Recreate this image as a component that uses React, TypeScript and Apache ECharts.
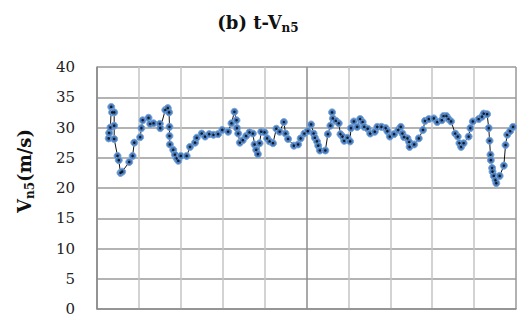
import React, { useEffect, useRef } from "react";
import * as echarts from "echarts";

const times: number[] = [
  2.8, 2.9, 3.2, 3.4, 3.6, 4.1, 4.1, 4.1, 4.9, 5.2, 5.6, 6.0, 7.7, 8.5, 8.9,
  10.3, 10.6, 10.9, 12.3, 12.7, 13.5, 15.0, 15.1, 16.3, 16.9, 17.2, 17.3, 17.3,
  17.4, 18.2, 18.6, 19.0, 19.4, 20.0, 21.4, 22.2, 23.4, 23.8, 25.0, 25.8, 26.8,
  27.8, 28.9, 29.9, 31.3, 32.1, 32.8, 33.3, 33.4, 33.7, 34.1, 34.8, 35.6, 36.4,
  37.2, 37.6, 38.0, 38.4, 38.8, 39.2, 40.0, 40.6, 41.2, 42.0, 42.8, 43.6, 44.6,
  45.0, 45.6, 47.0, 48.0, 48.6, 49.5, 50.3, 51.1, 51.7, 52.0, 52.5, 52.8, 53.2,
  54.5, 55.1, 55.7, 56.1, 56.3, 57.0, 57.7, 58.1, 58.6, 59.0, 59.8, 60.4, 60.6,
  61.3, 62.1, 62.8, 63.4, 63.8, 64.6, 65.2, 66.3, 66.9, 67.9, 68.9, 69.3, 69.9,
  70.9, 71.9, 72.5, 72.9, 73.3, 74.1, 74.5, 74.6, 75.7, 76.8, 77.8, 78.3, 79.2,
  80.4, 81.2, 82.3, 82.7, 83.4, 83.9, 84.5, 85.5, 86.1, 86.5, 86.9, 87.5, 88.7,
  89.1, 89.7, 91.1, 91.9, 92.3, 93.1, 93.5, 93.7, 93.9, 94.0, 94.3, 94.4, 94.7,
  95.1, 95.3, 96.1, 97.1, 97.5, 97.9, 98.6, 99.3,
];

const speeds: number[] = [
  28.2, 29.1, 30.0, 33.4, 32.5, 32.5, 30.3, 28.1, 25.3, 24.6, 22.5, 22.7, 24.3,
  25.3, 27.5, 28.4, 29.9, 31.2, 31.6, 30.6, 30.7, 30.6, 29.9, 32.9, 33.2, 32.5,
  30.1, 28.6, 27.2, 26.3, 25.5, 24.9, 24.5, 25.3, 25.3, 26.8, 27.5, 28.3, 29.0,
  28.5, 28.9, 28.8, 28.9, 29.6, 29.3, 30.7, 32.6, 31.2, 29.9, 29.0, 27.5, 27.9,
  28.6, 29.2, 29.0, 27.2, 26.3, 25.6, 27.4, 29.3, 29.2, 28.2, 27.7, 27.4, 29.8,
  29.3, 30.9, 29.0, 28.1, 27.0, 27.2, 28.2, 29.0, 29.4, 30.5, 29.0, 28.3, 27.7,
  27.0, 26.2, 26.2, 28.9, 30.3, 32.5, 31.5, 31.1, 30.7, 28.9, 28.5, 27.8, 28.3,
  27.7, 29.9, 31.0, 30.1, 31.4, 30.9, 30.1, 29.8, 29.0, 29.3, 30.1, 30.1, 29.9,
  29.4, 28.5, 28.9, 29.6, 30.1, 29.0, 28.4, 28.2, 27.6, 26.8, 27.2, 28.2, 29.6,
  31.1, 31.4, 31.5, 30.9, 31.2, 31.9, 31.9, 31.4, 31.0, 29.0, 28.5, 27.4, 26.8,
  27.4, 28.5, 29.9, 31.0, 31.4, 31.8, 32.3, 32.2, 29.9, 27.8, 25.5, 24.6, 23.3,
  22.7, 22.0, 21.3, 20.8, 22.0, 23.7, 27.1, 28.8, 29.4, 30.1,
];

const yTicks = { min: 0, max: 40, interval: 5 };
const xTicks = { min: 0, max: 100, interval: 10 };

const SERIF = "'DejaVu Serif', serif";

export default function App() {
  const ref = useRef<HTMLDivElement>(null);
  useEffect(() => {
    document.body.style.margin = "0";
    if (!ref.current) return;
    const chart = echarts.init(ref.current, null, { renderer: "svg" });
    const data = times.map((t, i) => [t, speeds[i]]);
    const vColors = [
      "#8c8c8c", "#c4c4c4", "#c4c4c4", "#c4c4c4", "#c4c4c4", "#8c8c8c",
      "#c4c4c4", "#c4c4c4", "#c4c4c4", "#c4c4c4", "#999999",
    ];
    const rich = {
      m: { fontFamily: SERIF, fontWeight: "bold", fontSize: 18, fill: "#111" },
      s: { fontFamily: SERIF, fontWeight: "bold", fontSize: 12, fill: "#111", padding: [11, 0, 0, 0] },
    };
    chart.setOption({
      animation: false,
      backgroundColor: "#ffffff",
      grid: { left: 97, top: 67, right: 13, bottom: 11 },
      graphic: [
        {
          type: "text",
          x: 258,
          y: 22,
          style: {
            text: "{m|(b) t-V}{s|n5}",
            align: "center",
            verticalAlign: "middle",
            rich,
          },
        },
        {
          type: "text",
          x: 24,
          y: 171,
          rotation: Math.PI / 2,
          style: {
            text: "{m|V}{s|n5}{m|(m/s)}",
            align: "center",
            verticalAlign: "middle",
            rich,
          },
        },
      ],
      xAxis: {
        type: "value",
        min: xTicks.min,
        max: xTicks.max,
        interval: xTicks.interval,
        axisLabel: { show: false },
        axisTick: { show: false },
        axisLine: { show: true, lineStyle: { color: "#8c8c8c", width: 1.5 } },
        splitLine: { show: true, lineStyle: { color: vColors, width: 1.5 } },
      },
      yAxis: {
        type: "value",
        min: yTicks.min,
        max: yTicks.max,
        interval: yTicks.interval,
        axisTick: { show: false },
        axisLine: { show: true, lineStyle: { color: "#8c8c8c", width: 1.5 } },
        axisLabel: { fontFamily: SERIF, fontSize: 15, color: "#222", margin: 22 },
        splitLine: { show: true, lineStyle: { color: "#9a9a9a", width: 1.5 } },
      },
      series: [
        {
          type: "line",
          data,
          symbol: "circle",
          symbolSize: 7,
          lineStyle: { color: "#111", width: 1 },
          itemStyle: { color: "#4a7dbf", borderColor: "#7aa6d8", borderWidth: 1 },
          z: 2,
        },
        {
          type: "scatter",
          data,
          symbol: "circle",
          symbolSize: 2.6,
          itemStyle: { color: "#000" },
          z: 3,
          silent: true,
        },
      ],
    });
    return () => chart.dispose();
  }, []);
  return <div ref={ref} style={{ width: 529, height: 320 }} />;
}
